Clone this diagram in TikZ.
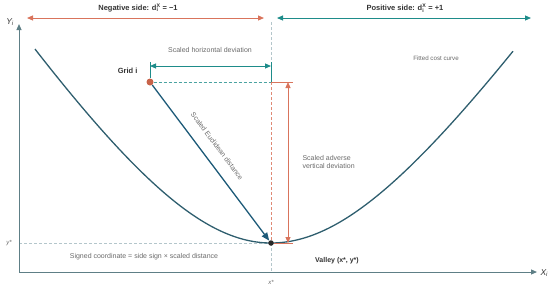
\documentclass[tikz,border=0pt]{standalone}
\usepackage{fontspec}
\setmainfont{Liberation Sans}
\usetikzlibrary{arrows.meta}
\definecolor{tealc}{HTML}{1E8C8A}
\definecolor{salm}{HTML}{D9745C}
\definecolor{curvec}{HTML}{2E5E6E}
\definecolor{eucl}{HTML}{1D5A78}
\definecolor{axisc}{HTML}{5E7F86}
\definecolor{txt}{HTML}{333333}
\definecolor{ltxt}{HTML}{6A6A6A}
\definecolor{dashg}{HTML}{B4C6CB}
\definecolor{dotc}{HTML}{C8634A}
\begin{document}
\begin{tikzpicture}[x=1pt,y=-1pt,
  tip/.style={-{Triangle[length=6pt,width=5pt]}},
  dtip/.style={{Triangle[length=6pt,width=5pt]}-{Triangle[length=6pt,width=5pt]}},
  boldlab/.style={font=\fontsize{7.5}{9}\selectfont\bfseries, text=txt},
  lightlab/.style={font=\fontsize{7}{8.5}\selectfont, text=ltxt},
  smalllab/.style={font=\fontsize{6.2}{7}\selectfont, text=ltxt},
  guide/.style={dashg, dash pattern=on 3pt off 2pt, line width=0.7pt},
  sguide/.style={salm!85, dash pattern=on 3pt off 2pt, line width=0.8pt},
  tguide/.style={tealc!80, dash pattern=on 3pt off 2pt, line width=0.8pt}]
\useasboundingbox (0,0) rectangle (550,290);

% coordinates
\coordinate (O) at (19,272);
\coordinate (Ytop) at (19,24);
\coordinate (Xend) at (537,272);
\coordinate (negL) at (27,18);
\coordinate (negR) at (264,18);
\coordinate (posL) at (277,18);
\coordinate (posR) at (531,18);
\coordinate (vtop) at (271,22);
\coordinate (vmid) at (271,82);
\coordinate (vbot) at (271,272);
\coordinate (hL) at (150,66);
\coordinate (hR) at (271,66);
\coordinate (hLt) at (150,62);
\coordinate (hRt) at (271,62);
\coordinate (sTop) at (288,82);
\coordinate (sBot) at (288,243);
\coordinate (sTopR) at (293,82);
\coordinate (sBotR) at (293,243);
\coordinate (ystarL) at (19,243);

% guides
\draw[guide] (vtop) -- (vmid);
\draw[sguide] (vmid) -- (271,243);
\draw[guide] (271,243) -- (vbot);
\draw[guide] (ystarL) -- (271,243);

% axes
\draw[axisc, line width=1pt, tip] (O) -- (Ytop);
\draw[axisc, line width=1pt, tip] (O) -- (Xend);
\node[font=\fontsize{8.5}{9}\selectfont\itshape, text=txt] (ylab) at (10,22) {Y\textsubscript{i}};
\node[font=\fontsize{8.5}{9}\selectfont\itshape, text=txt, anchor=west] (xlab) at (537,273) {X\textsubscript{i}};
\node[font=\fontsize{6}{7}\selectfont\itshape, text=ltxt] (ystar) at (9,243) {y*};
\node[font=\fontsize{6}{7}\selectfont\itshape, text=ltxt] (xstar) at (271,282) {x*};

% side arrows
\draw[salm, line width=1pt, dtip] (negL) -- (negR);
\draw[tealc, line width=1pt, dtip] (posL) -- (posR);
\node[boldlab] (neglab) at (138,8) {Negative side: d\rlap{\textsubscript{i}}\textsuperscript{X} = −1};
\node[boldlab] (poslab) at (405,8) {Positive side: d\rlap{\textsubscript{i}}\textsuperscript{X} = +1};

% cost curve
\draw[curvec, line width=1.3pt] plot[domain=35:271, samples=80] (\x, {243-155*(sqrt(((\x-271)/100)^2+2.56)-1.6)});
\draw[curvec, line width=1.3pt] plot[domain=271:513, samples=80] (\x, {243-147.4*(sqrt(((\x-271)/100)^2+2.56)-1.6)});
\node[smalllab] (fitlab) at (436,58) {Fitted cost curve};

% grid point and valley
\node[circle, fill=dotc, inner sep=0pt, minimum size=7pt] (grid) at (150,82) {};
\node[circle, fill=txt!80!black, inner sep=0pt, minimum size=5.5pt] (valley) at (271,243) {};
\node[boldlab, anchor=east, text=txt] (gridlab) at (141,71) {Grid i};
\node[boldlab, font=\fontsize{7}{8}\selectfont\bfseries] (valleylab) at (337,261) {Valley (x*, y*)};

% horizontal deviation
\draw[tguide] (grid) -- (vmid);
\draw[tealc, line width=0.9pt] (hLt) -- (grid.north);
\draw[tealc, line width=0.9pt] (hRt) -- (vmid);
\draw[tealc, line width=1pt, dtip] (hL) -- (hR);
\node[lightlab] (hlab) at (210,50) {Scaled horizontal deviation};

% vertical adverse deviation
\draw[salm, line width=0.9pt] (vmid) -- (sTopR);
\draw[salm, line width=0.9pt] (valley) -- (sBotR);
\draw[salm, line width=1pt, dtip] (sTop) -- (sBot);
\node[lightlab, anchor=west, align=left] (vlab) at (299,162) {Scaled adverse\\vertical deviation};

% euclidean distance
\draw[eucl, line width=1.3pt, -{Triangle[length=8pt,width=6.5pt]}] (grid) -- (valley);
\node[lightlab, rotate=-53.3] (elab) at (217,146) {Scaled Euclidean distance};

% signed coordinate
\node[lightlab] (signlab) at (144,257) {Signed coordinate = side sign × scaled distance};
\end{tikzpicture}
\end{document}
